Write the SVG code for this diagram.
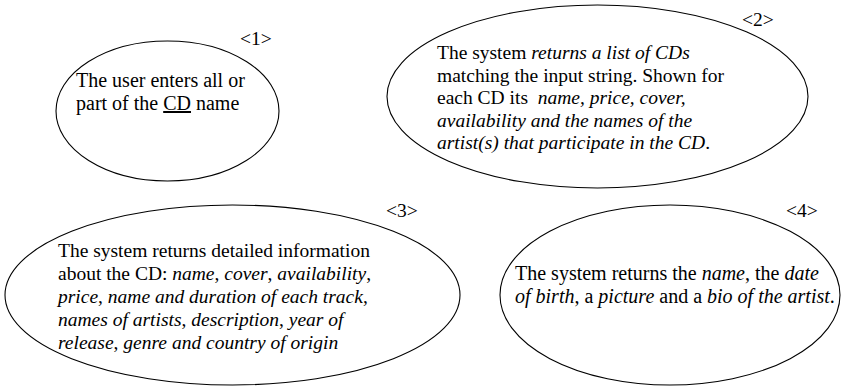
<svg xmlns="http://www.w3.org/2000/svg" width="842" height="386" viewBox="0 0 842 386">
  <style>
    .shape { fill: #ffffff; stroke: #000000; stroke-width: 1.1; }
    .txt { font-family: "Liberation Serif", "Times New Roman", serif; font-size: 19.5px; fill: #000000; }
    .big { font-size: 20px; }
    .it { font-style: italic; }
    .ul { text-decoration: underline; }
  </style>
  <rect width="842" height="386" fill="#ffffff"/>

  <!-- use case steps -->
  <g id="step1">
    <ellipse class="shape" cx="167.5" cy="111" rx="111.5" ry="70"/>
    <text class="txt" x="240" y="45">&lt;1&gt;</text>
    <text class="txt big" x="76" y="86.5">The user enters all or</text>
    <text class="txt big" x="76" y="110">part of the <tspan class="ul">CD</tspan> name</text>
  </g>

  <g id="step2">
    <ellipse class="shape" cx="597.5" cy="96.5" rx="210.5" ry="91.5"/>
    <text class="txt" x="742" y="26">&lt;2&gt;</text>
    <text class="txt" x="437" y="59">The system <tspan class="it">returns a list of CDs</tspan></text>
    <text class="txt" x="437" y="81.5">matching the input string. Shown for</text>
    <text class="txt" x="437" y="104" xml:space="preserve">each CD its  <tspan class="it">name, price, cover,</tspan></text>
    <text class="txt it" x="437" y="126.5">availability and the names of the</text>
    <text class="txt" x="437" y="149"><tspan class="it">artist(s) that participate in the CD</tspan>.</text>
  </g>

  <g id="step3">
    <ellipse class="shape" cx="232.5" cy="295" rx="227.5" ry="90"/>
    <text class="txt" x="386" y="217">&lt;3&gt;</text>
    <text class="txt" x="58" y="257">The system returns detailed information</text>
    <text class="txt" x="58" y="280">about the CD: <tspan class="it">name</tspan>, <tspan class="it">cover</tspan>, <tspan class="it">availability</tspan>,</text>
    <text class="txt" x="58" y="303"><tspan class="it">price</tspan>, <tspan class="it">name and duration of each track</tspan>,</text>
    <text class="txt" x="58" y="326"><tspan class="it">names of artists</tspan>, <tspan class="it">description</tspan>, <tspan class="it">year of</tspan></text>
    <text class="txt" x="58" y="349"><tspan class="it">release</tspan>, <tspan class="it">genre and country of origin</tspan></text>
  </g>

  <g id="step4">
    <ellipse class="shape" cx="670" cy="295" rx="170" ry="90"/>
    <text class="txt" x="786" y="217">&lt;4&gt;</text>
    <text class="txt big" x="515" y="280">The system returns the <tspan class="it">name</tspan>, the <tspan class="it">date</tspan></text>
    <text class="txt big" x="515" y="303"><tspan class="it">of birth</tspan>, a <tspan class="it">picture</tspan> and a <tspan class="it">bio of the artist</tspan>.</text>
  </g>

  <g id="connectors"/>
</svg>
